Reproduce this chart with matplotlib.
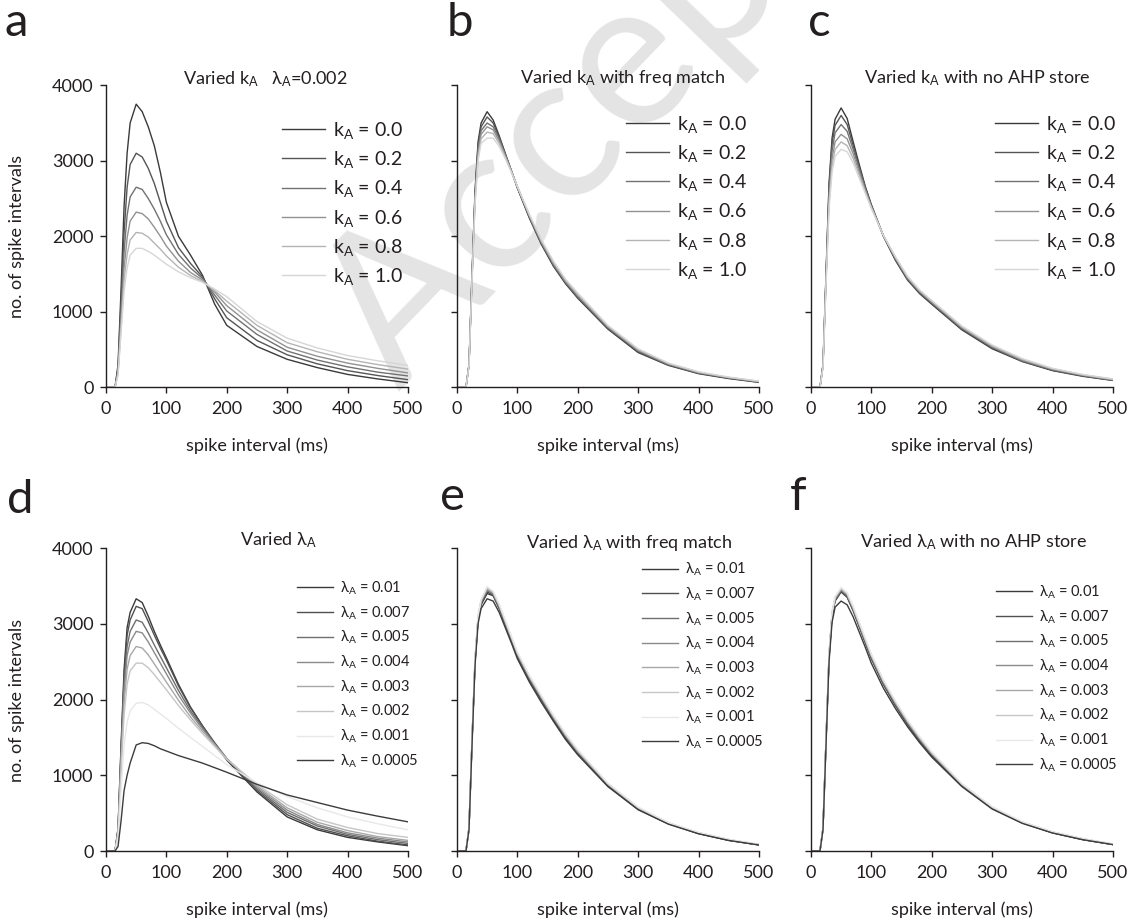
import matplotlib
matplotlib.use('Agg')
import matplotlib.pyplot as plt

plt.rcParams['font.family'] = ['Lato', 'DejaVu Sans']
plt.rcParams['mathtext.fontset'] = 'custom'
plt.rcParams['mathtext.rm'] = 'Lato'
plt.rcParams['mathtext.it'] = 'Lato:italic'
plt.rcParams['text.color'] = '#231f20'

# spike interval sample points (ms)
spike_ms = [0, 15, 20, 25, 30, 35, 40, 50, 60, 70, 80, 90, 100, 120, 140, 160, 180, 200, 250, 300, 350, 400, 450, 500]

# panel a: varied kA, lambda=0.002
a_k00 = [0, 0, 300, 1300, 2400, 3100, 3500, 3750, 3650, 3450, 3200, 2850, 2450, 2000, 1750, 1480, 1100, 820, 540, 370, 260, 170, 110, 60]
a_k02 = [0, 0, 260, 1150, 2050, 2650, 2950, 3100, 3050, 2900, 2700, 2450, 2200, 1850, 1640, 1460, 1170, 920, 620, 430, 310, 220, 155, 100]
a_k04 = [0, 0, 230, 1000, 1800, 2280, 2520, 2650, 2620, 2500, 2360, 2200, 2020, 1760, 1580, 1440, 1220, 1010, 700, 480, 360, 270, 200, 150]
a_k06 = [0, 0, 200, 880, 1580, 1980, 2200, 2320, 2300, 2230, 2120, 2000, 1870, 1670, 1520, 1420, 1260, 1080, 760, 530, 410, 320, 250, 190]
a_k08 = [0, 0, 180, 800, 1420, 1760, 1950, 2050, 2040, 1990, 1910, 1830, 1740, 1590, 1480, 1400, 1280, 1140, 820, 590, 470, 370, 300, 240]
a_k10 = [0, 0, 160, 720, 1270, 1580, 1750, 1840, 1840, 1800, 1750, 1690, 1630, 1530, 1450, 1390, 1300, 1200, 870, 650, 520, 420, 350, 290]

# panel b: varied kA with freq match
b_k00 = [0, 0, 300, 1500, 2600, 3250, 3500, 3650, 3540, 3330, 3100, 2870, 2640, 2240, 1890, 1600, 1370, 1180, 770, 460, 290, 180, 115, 65]
b_k02 = [0, 0, 300, 1480, 2570, 3200, 3450, 3580, 3500, 3310, 3090, 2870, 2650, 2250, 1900, 1610, 1380, 1190, 780, 470, 295, 185, 120, 68]
b_k04 = [0, 0, 300, 1460, 2540, 3150, 3400, 3500, 3450, 3290, 3080, 2870, 2650, 2260, 1910, 1620, 1390, 1200, 790, 480, 300, 190, 125, 72]
b_k06 = [0, 0, 290, 1440, 2500, 3100, 3350, 3450, 3410, 3260, 3070, 2870, 2660, 2270, 1920, 1640, 1400, 1220, 800, 490, 310, 195, 128, 75]
b_k08 = [0, 0, 290, 1420, 2460, 3050, 3290, 3380, 3360, 3230, 3050, 2860, 2660, 2280, 1940, 1650, 1420, 1230, 810, 500, 315, 200, 130, 78]
b_k10 = [0, 0, 280, 1400, 2420, 3000, 3230, 3300, 3300, 3190, 3030, 2850, 2660, 2290, 1950, 1670, 1430, 1250, 820, 510, 320, 205, 135, 82]

# panel c: varied kA with no AHP store
c_k00 = [0, 0, 300, 1500, 2700, 3300, 3550, 3700, 3560, 3250, 2950, 2660, 2420, 2000, 1680, 1420, 1240, 1100, 760, 510, 340, 220, 145, 90]
c_k02 = [0, 0, 300, 1480, 2650, 3230, 3470, 3600, 3480, 3200, 2920, 2650, 2410, 2000, 1690, 1430, 1250, 1110, 770, 520, 345, 225, 150, 92]
c_k04 = [0, 0, 290, 1450, 2580, 3130, 3370, 3480, 3390, 3150, 2890, 2630, 2400, 2010, 1700, 1440, 1260, 1120, 780, 530, 350, 230, 155, 95]
c_k06 = [0, 0, 280, 1420, 2500, 3030, 3250, 3350, 3290, 3090, 2850, 2610, 2390, 2010, 1710, 1450, 1270, 1130, 790, 540, 360, 240, 160, 100]
c_k08 = [0, 0, 270, 1390, 2430, 2940, 3150, 3250, 3200, 3030, 2810, 2590, 2380, 2010, 1720, 1460, 1280, 1140, 800, 550, 370, 245, 165, 105]
c_k10 = [0, 0, 260, 1360, 2360, 2850, 3060, 3150, 3120, 2970, 2770, 2570, 2370, 2010, 1730, 1470, 1290, 1150, 810, 560, 380, 250, 170, 110]

# panel d: varied lambda
d_l0100 = [0, 0, 300, 1400, 2400, 2950, 3150, 3330, 3280, 3100, 2900, 2720, 2550, 2200, 1900, 1650, 1420, 1200, 780, 450, 280, 180, 120, 70]
d_l0070 = [0, 0, 290, 1350, 2300, 2850, 3050, 3230, 3200, 3030, 2850, 2680, 2520, 2180, 1890, 1650, 1430, 1220, 800, 480, 300, 200, 130, 80]
d_l0050 = [0, 0, 280, 1300, 2200, 2700, 2900, 3050, 3020, 2880, 2720, 2570, 2420, 2120, 1850, 1630, 1420, 1220, 820, 510, 330, 220, 150, 100]
d_l0040 = [0, 0, 270, 1250, 2100, 2580, 2760, 2900, 2880, 2760, 2620, 2480, 2340, 2060, 1820, 1610, 1410, 1220, 840, 540, 350, 240, 170, 120]
d_l0030 = [0, 0, 250, 1150, 1950, 2400, 2580, 2700, 2680, 2590, 2470, 2350, 2230, 1990, 1770, 1580, 1400, 1220, 860, 570, 380, 270, 190, 140]
d_l0020 = [0, 0, 230, 1050, 1800, 2200, 2380, 2480, 2480, 2420, 2330, 2230, 2130, 1920, 1730, 1550, 1380, 1210, 880, 610, 420, 310, 230, 180]
d_l0010 = [0, 0, 180, 800, 1400, 1700, 1850, 1950, 1960, 1930, 1870, 1810, 1750, 1620, 1500, 1380, 1260, 1140, 900, 720, 570, 450, 360, 280]
d_l0005 = [0, 0, 60, 400, 800, 1000, 1160, 1400, 1430, 1420, 1390, 1350, 1320, 1260, 1210, 1160, 1100, 1040, 880, 740, 640, 540, 460, 385]

# panel e: varied lambda with freq match
e_l0100 = [0, 0, 300, 1450, 2500, 3050, 3250, 3400, 3370, 3200, 2990, 2780, 2570, 2260, 1990, 1730, 1490, 1290, 860, 550, 360, 230, 140, 80]
e_l0070 = [0, 0, 300, 1450, 2500, 3060, 3260, 3420, 3380, 3210, 3000, 2790, 2580, 2270, 2000, 1740, 1500, 1300, 870, 555, 362, 232, 142, 82]
e_l0050 = [0, 0, 300, 1460, 2510, 3070, 3280, 3440, 3390, 3220, 3010, 2800, 2590, 2280, 2010, 1750, 1510, 1305, 875, 560, 365, 235, 145, 82]
e_l0040 = [0, 0, 300, 1460, 2520, 3080, 3290, 3450, 3400, 3230, 3020, 2810, 2600, 2290, 2020, 1760, 1520, 1310, 880, 565, 368, 238, 147, 84]
e_l0030 = [0, 0, 300, 1470, 2530, 3090, 3300, 3470, 3410, 3240, 3030, 2820, 2610, 2300, 2030, 1770, 1530, 1320, 885, 570, 370, 240, 150, 85]
e_l0020 = [0, 0, 300, 1470, 2540, 3100, 3310, 3480, 3420, 3250, 3040, 2830, 2620, 2310, 2040, 1780, 1540, 1330, 890, 575, 372, 242, 152, 86]
e_l0010 = [0, 0, 300, 1480, 2550, 3110, 3320, 3490, 3430, 3260, 3050, 2840, 2630, 2320, 2050, 1790, 1550, 1340, 895, 580, 375, 245, 155, 88]
e_l0005 = [0, 0, 280, 1400, 2450, 3000, 3200, 3330, 3300, 3150, 2950, 2750, 2540, 2230, 1960, 1710, 1470, 1270, 850, 545, 355, 228, 140, 80]

# panel f: varied lambda with no AHP store
f_l0100 = [0, 0, 300, 1450, 2550, 3100, 3300, 3420, 3350, 3170, 2960, 2750, 2540, 2200, 1920, 1670, 1450, 1260, 860, 560, 370, 240, 150, 85]
f_l0070 = [0, 0, 300, 1460, 2560, 3110, 3310, 3430, 3360, 3180, 2970, 2760, 2550, 2210, 1930, 1680, 1460, 1270, 865, 565, 372, 242, 152, 86]
f_l0050 = [0, 0, 300, 1460, 2570, 3120, 3320, 3440, 3370, 3190, 2980, 2770, 2560, 2220, 1940, 1690, 1470, 1280, 870, 570, 375, 245, 155, 88]
f_l0040 = [0, 0, 300, 1470, 2580, 3130, 3330, 3450, 3380, 3200, 2990, 2780, 2570, 2230, 1950, 1700, 1480, 1285, 875, 572, 378, 248, 157, 89]
f_l0030 = [0, 0, 300, 1470, 2590, 3140, 3340, 3460, 3390, 3210, 3000, 2790, 2580, 2240, 1960, 1710, 1490, 1290, 880, 575, 380, 250, 160, 90]
f_l0020 = [0, 0, 300, 1480, 2600, 3150, 3350, 3470, 3400, 3220, 3010, 2800, 2590, 2250, 1970, 1720, 1500, 1300, 885, 580, 382, 252, 162, 92]
f_l0010 = [0, 0, 300, 1480, 2610, 3160, 3360, 3480, 3410, 3230, 3020, 2810, 2600, 2260, 1980, 1730, 1510, 1310, 890, 585, 385, 255, 165, 94]
f_l0005 = [0, 0, 280, 1400, 2500, 3020, 3220, 3300, 3250, 3090, 2890, 2690, 2480, 2150, 1880, 1640, 1430, 1240, 850, 555, 365, 238, 150, 85]

k_labels = ['0.0', '0.2', '0.4', '0.6', '0.8', '1.0']
lam_labels = ['0.01', '0.007', '0.005', '0.004', '0.003', '0.002', '0.001', '0.0005']

k_colors = ['#3a3a3a', '#555555', '#727272', '#929292', '#b4b4b4', '#d6d6d6']
lam_colors = ['#3a3a3a', '#505050', '#6e6e6e', '#8a8a8a', '#a8a8a8', '#c6c6c6', '#e8e8e8', '#3c3c3c']

SUB = '$_\\mathregular{A}$'

fig = plt.figure(figsize=(11.31, 9.22), dpi=100)
fig.patch.set_facecolor('white')

# faint watermark behind everything (runs off the top edge like the original)
fig.text(0.352, 0.575, 'Accepted', rotation=46, rotation_mode='anchor',
         ha='left', va='baseline', fontsize=150, color='#e4e4e4', zorder=-10)

lefts = [0.0937, 0.404, 0.717]
top_row = (0.580, 0.3275)
bot_row = (0.077, 0.3286)


def draw_panel(pos, curves, names, colors, title, title_xy, leg_anchor, big_legend, show_y):
    ax = fig.add_axes(pos)
    ax.patch.set_alpha(0)
    for ys, name, col in zip(curves, names, colors):
        ax.plot(spike_ms, ys, color=col, lw=1.0, label=name)
    ax.set_xlim(0, 500)
    ax.set_ylim(0, 4000)
    ax.set_xticks([0, 100, 200, 300, 400, 500])
    ax.set_yticks([0, 1000, 2000, 3000, 4000])
    if not show_y:
        ax.set_yticklabels([])
    for s in ['top', 'right']:
        ax.spines[s].set_visible(False)
    for s in ['left', 'bottom']:
        ax.spines[s].set_linewidth(1.0)
        ax.spines[s].set_color('#231f20')
    ax.tick_params(direction='out', length=4, width=1.0, labelsize=13,
                   colors='#231f20')
    ax.tick_params(axis='x', pad=6)
    ax.tick_params(axis='y', pad=5)
    ax.text(title_xy[0], title_xy[1], title, transform=ax.transAxes,
            ha='center', va='center', fontsize=13)
    ax.text(0.5, -0.195, 'spike interval (ms)', transform=ax.transAxes,
            ha='center', va='center', fontsize=13)
    if big_legend:
        ax.legend(loc='upper left', bbox_to_anchor=leg_anchor, frameon=False,
                  fontsize=14, handlelength=2.2, handletextpad=0.42,
                  labelspacing=0.42, borderpad=0, borderaxespad=0)
    else:
        ax.legend(loc='upper left', bbox_to_anchor=leg_anchor, frameon=False,
                  fontsize=10.5, handlelength=2.45, handletextpad=0.5,
                  labelspacing=0.5, borderpad=0, borderaxespad=0)
    return ax


k_names = ['k' + SUB + ' = ' + v for v in k_labels]
lam_names = ['λ' + SUB + ' = ' + v for v in lam_labels]

draw_panel([lefts[0], top_row[0], 0.267, top_row[1]],
           [a_k00, a_k02, a_k04, a_k06, a_k08, a_k10], k_names, k_colors,
           'Varied k' + SUB + '   λ' + SUB + '=0.002', (0.527, 1.02), (0.583, 0.885), True, True)
draw_panel([lefts[1], top_row[0], 0.267, top_row[1]],
           [b_k00, b_k02, b_k04, b_k06, b_k08, b_k10], k_names, k_colors,
           'Varied k' + SUB + ' with freq match', (0.548, 1.025), (0.561, 0.905), True, False)
draw_panel([lefts[2], top_row[0], 0.267, top_row[1]],
           [c_k00, c_k02, c_k04, c_k06, c_k08, c_k10], k_names, k_colors,
           'Varied k' + SUB + ' with no AHP store', (0.551, 1.025), (0.61, 0.905), True, False)
draw_panel([lefts[0], bot_row[0], 0.267, bot_row[1]],
           [d_l0100, d_l0070, d_l0050, d_l0040, d_l0030, d_l0020, d_l0010, d_l0005],
           lam_names, lam_colors, 'Varied λ' + SUB, (0.57, 1.026), (0.632, 0.896), False, True)
draw_panel([lefts[1], bot_row[0], 0.267, bot_row[1]],
           [e_l0100, e_l0070, e_l0050, e_l0040, e_l0030, e_l0020, e_l0010, e_l0005],
           lam_names, lam_colors, 'Varied λ' + SUB + ' with freq match', (0.571, 1.017), (0.614, 0.958), False, False)
draw_panel([lefts[2], bot_row[0], 0.267, bot_row[1]],
           [f_l0100, f_l0070, f_l0050, f_l0040, f_l0030, f_l0020, f_l0010, f_l0005],
           lam_names, lam_colors, 'Varied λ' + SUB + ' with no AHP store', (0.54, 1.02), (0.614, 0.883), False, False)

# y axis labels
fig.text(17 / 1131, 1 - 236 / 922, 'no. of spike intervals', rotation=90,
         ha='center', va='center', fontsize=13)
fig.text(17 / 1131, 1 - 700 / 922, 'no. of spike intervals', rotation=90,
         ha='center', va='center', fontsize=13)

# panel letters
for letter, x, y in [('a', 5, 36), ('b', 447, 36), ('c', 808, 36),
                     ('d', 7, 513), ('e', 440, 510), ('f', 790, 510)]:
    fig.text(x / 1131, 1 - y / 922, letter, ha='left', va='baseline', fontsize=34)

fig.savefig('out.png', dpi=100, facecolor='white')
